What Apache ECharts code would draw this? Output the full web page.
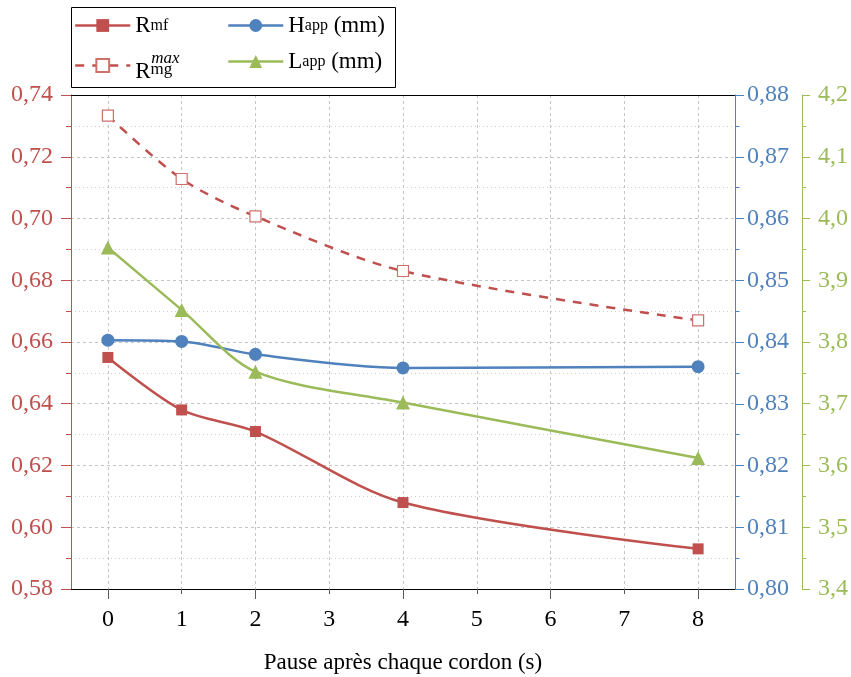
<!DOCTYPE html>
<html><head><meta charset="utf-8">
<script src="https://cdn.jsdelivr.net/npm/echarts@6/dist/echarts.min.js"></script>
<style>html,body{margin:0;padding:0;background:#fff}#c{width:851px;height:677px}</style>
</head><body><div id="c"></div>
<script>
// ---- data ----
const pauses = [0, 1, 2, 4, 8];
const rmf = [0.655, 0.638, 0.631, 0.608, 0.593];
const rmgMax = [0.7333, 0.7128, 0.7007, 0.6830, 0.6670];
const happ = [0.8403, 0.8401, 0.8380, 0.8358, 0.8360];
const lapp = [3.953, 3.852, 3.752, 3.702, 3.612];
const xTicks = [0, 1, 2, 3, 4, 5, 6, 7, 8];
const xMajorTicks = [0, 2, 4, 6, 8];
const xName = 'Pause après chaque cordon (s)';
const seriesNames = ['Rmf', 'Rmg max', 'Happ (mm)', 'Lapp (mm)'];

const RED = '#C0504D', BLUE = '#4F81BD', GREEN = '#9BBB59';
const FONT = 'Liberation Serif';
const pairs = (ys) => pauses.map((x, i) => [x, ys[i]]);
const comma = (d) => (v) => v.toFixed(d).replace('.', ',');

const legendRich = {
  R1: {fontSize: 23, lineHeight: 26, fontFamily: FONT, color: '#000'},
  sub: {fontSize: 16, verticalAlign: 'middle', fontFamily: FONT, color: '#000'},
  sp: {width: 16, fontSize: 16, lineHeight: 12},
  sup: {fontSize: 17, lineHeight: 12, fontStyle: 'italic', fontFamily: FONT, color: '#000'},
  R2: {fontSize: 23, lineHeight: 14, fontFamily: FONT, color: '#000'},
  mg: {fontSize: 17, lineHeight: 12, verticalAlign: 'bottom', fontFamily: FONT, color: '#000'}
};
function legendFmt(name) {
  if (name === seriesNames[0]) return '{R1|R}{sub|mf}';
  if (name === seriesNames[1]) return '{sp| }{sup|max}\n{R2|R}{mg|mg}';
  if (name === seriesNames[2]) return '{R1|H}{sub|app}{R1| (mm)}';
  if (name === seriesNames[3]) return '{R1|L}{sub|app}{R1| (mm)}';
  return name;
}
const legendBase = {
  orient: 'vertical', top: 14, padding: 0, itemWidth: 55, itemHeight: 16, itemGap: 13,
  formatter: legendFmt, textStyle: {rich: legendRich}, selectedMode: false, z: 5,
  lineStyle: {width: 2.5}
};

const gridDash = {color: '#c4c4c4', width: 1, type: [3, 3]};
const gridDot = {color: '#cfcfcf', width: 1, type: [1, 3]};

function yAx(color, min, max, interval, dec, pos, offset, tickLen, margin, split) {
  return {
    type: 'value', min, max, interval, position: pos, offset,
    axisLine: {show: true, onZero: false, lineStyle: {color, width: 1}},
    axisTick: {show: true, length: tickLen, lineStyle: {color}},
    minorTick: {show: true, splitNumber: 2, length: tickLen / 2, lineStyle: {color}},
    axisLabel: {color, fontSize: 24, fontFamily: FONT, margin, formatter: comma(dec)},
    splitLine: {show: split, lineStyle: gridDash},
    minorSplitLine: {show: split, lineStyle: gridDot}
  };
}

const chart = echarts.init(document.getElementById('c'), null, {renderer: 'canvas'});
chart.setOption({
  animation: false,
  backgroundColor: '#fff',
  graphic: [{type: 'rect', left: 71, top: 7, z: 1,
    shape: {width: 324, height: 80}, style: {fill: '#fff', stroke: '#000', lineWidth: 1}}],
  legend: [
    Object.assign({}, legendBase, {left: 74, data: [seriesNames[0], seriesNames[1]]}),
    Object.assign({}, legendBase, {left: 227, data: [seriesNames[2], seriesNames[3]]})
  ],
  grid: {left: 71, right: 116, top: 95, bottom: 88, show: false, containLabel: false, outerBoundsMode: 'none'},
  xAxis: [{
    type: 'value', min: -0.5, max: 8.5, splitNumber: 9,
    axisLine: {show: true, onZero: false, lineStyle: {color: '#000', width: 1}},
    axisTick: {show: true, customValues: xTicks, length: 5, lineStyle: {color: '#595959'}},
    axisLabel: {customValues: xTicks, fontSize: 24, fontFamily: FONT, color: '#000', margin: 19},
    splitLine: {show: true, lineStyle: gridDash},
    name: xName, nameLocation: 'middle', nameGap: 62,
    nameTextStyle: {fontSize: 23, fontFamily: FONT, color: '#000'}
  }, {
    type: 'value', min: -0.5, max: 8.5, splitNumber: 9, position: 'bottom',
    axisLine: {show: false, onZero: false},
    axisTick: {show: true, customValues: xMajorTicks, length: 10, lineStyle: {color: '#595959'}},
    axisLabel: {show: false}, splitLine: {show: false}
  }, {
    type: 'value', min: -0.5, max: 8.5, splitNumber: 9, position: 'top',
    axisLine: {show: true, onZero: false, lineStyle: {color: '#000', width: 1}},
    axisTick: {show: false}, axisLabel: {show: false}, splitLine: {show: false}
  }],
  yAxis: [
    yAx(RED, 0.58, 0.74, 0.02, 2, 'left', 0, 10, 18, true),
    yAx(BLUE, 0.80, 0.88, 0.01, 2, 'right', 0, 9, 12, false),
    yAx(GREEN, 3.4, 4.2, 0.1, 1, 'right', 67, 8, 16, false)
  ],
  series: [
    {name: seriesNames[0], type: 'line', yAxisIndex: 0, data: pairs(rmf), smooth: 0.3,
      symbol: 'rect', symbolSize: 11, lineStyle: {color: RED, width: 2.5}, itemStyle: {color: RED}},
    {name: seriesNames[1], type: 'line', yAxisIndex: 0, data: pairs(rmgMax), smooth: 0.3,
      symbol: 'rect', symbolSize: 11, lineStyle: {color: RED, width: 2.5, type: [9, 8]},
      itemStyle: {color: '#fff', borderColor: '#D0706D', borderWidth: 1.2}},
    {name: seriesNames[2], type: 'line', yAxisIndex: 1, data: pairs(happ), smooth: 0.3,
      symbol: 'circle', symbolSize: 13, lineStyle: {color: BLUE, width: 2.5}, itemStyle: {color: BLUE}},
    {name: seriesNames[3], type: 'line', yAxisIndex: 2, data: pairs(lapp), smooth: 0.3,
      symbol: 'triangle', symbolSize: 14, lineStyle: {color: GREEN, width: 2.5}, itemStyle: {color: GREEN}}
  ]
});
</script></body></html>
